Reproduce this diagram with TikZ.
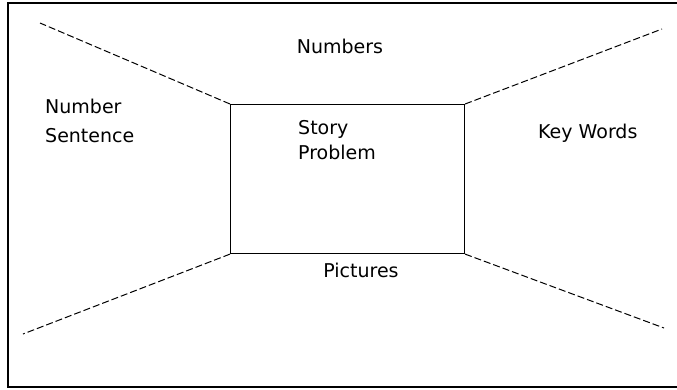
\documentclass[tikz,border=0pt]{standalone}
\usepackage{fontspec}
\setmainfont{DejaVu Sans}
\begin{document}
\begin{tikzpicture}[x=1pt,y=-1pt,
  lbl/.style={inner sep=0pt,font=\fontsize{19}{29}\selectfont,align=left},
  ray/.style={line width=1pt,dash pattern=on 7pt off 3pt},
  boxline/.style={line width=1.1pt},
  frame/.style={line width=2pt}]
\useasboundingbox (0,0) rectangle (677,389);
\fill[white] (0,0) rectangle (677,389);
% frame (top, left, bottom)
\draw[frame] (677,3) -- (8,3) -- (8,387) -- (677,387);
% central box
\node[draw,boxline,minimum width=234pt,minimum height=149pt,inner sep=0pt,anchor=north west] (box) at (230,104) {};
% rays
\coordinate (tl) at (40,23);
\coordinate (tr) at (662,29);
\coordinate (bl) at (23,334);
\coordinate (br) at (664,328);
\draw[ray] (box.north west) -- (tl);
\draw[ray] (box.north east) -- (tr);
\draw[ray] (box.south west) -- (bl);
\draw[ray] (box.south east) -- (br);
% labels
\node[lbl,anchor=base] (numbers) at (340,53) {Numbers};
\node[lbl,anchor=north west] (numsent) at (45,98.5) {Number\\Sentence};
\node[lbl,anchor=north west,font=\fontsize{19}{25}\selectfont] (story) at (298,120.5) {Story\\Problem};
\node[lbl,anchor=base west] (key) at (538,138) {Key Words};
\node[lbl,anchor=base] (pictures) at (361,277) {Pictures};
\end{tikzpicture}
\end{document}
